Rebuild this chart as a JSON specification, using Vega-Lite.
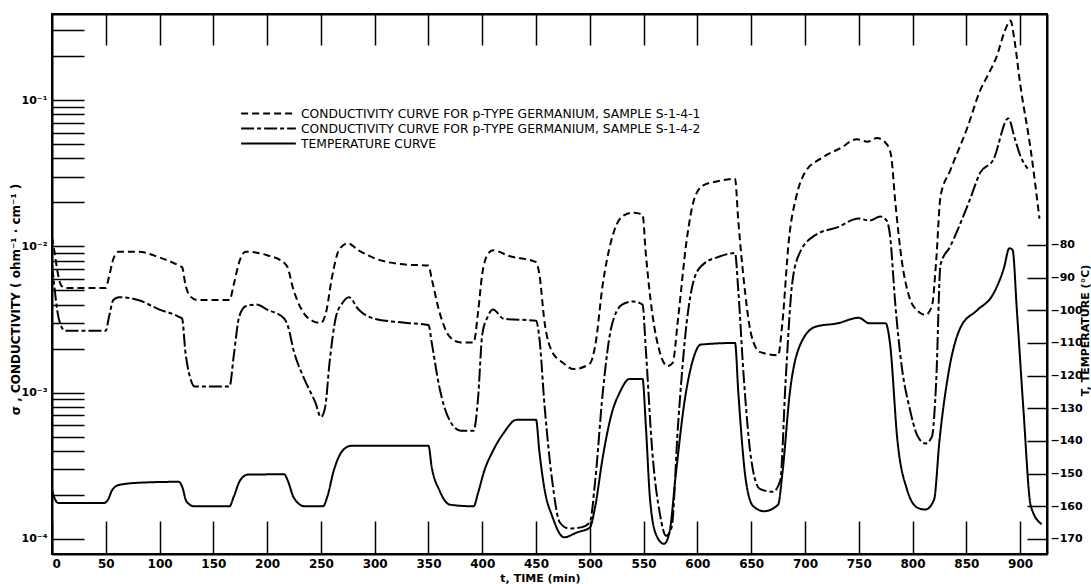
{
  "$schema": "https://vega.github.io/schema/vega-lite/v6.json",
  "width": 995,
  "height": 540,
  "autosize": {"type": "none"},
  "padding": {"left": 52, "top": 14, "right": 44, "bottom": 30},
  "background": "white",
  "config": {
    "view": {"stroke": "black", "strokeWidth": 2},
    "font": "DejaVu Sans",
    "axis": {"grid": false, "domainColor": "black", "domainWidth": 2, "tickColor": "black", "tickWidth": 1.5, "labelColor": "black", "titleColor": "black", "labelFont": "DejaVu Sans", "titleFont": "DejaVu Sans"}
  },
  "datasets": {
    "cond": [
      {"t":0,"s":0.0115,"series":"S-1-4-1"},{"t":2,"s":0.0095,"series":"S-1-4-1"},{"t":5,"s":0.0068,"series":"S-1-4-1"},{"t":8,"s":0.0055,"series":"S-1-4-1"},{"t":12,"s":0.0052,"series":"S-1-4-1"},{"t":50,"s":0.0052,"series":"S-1-4-1"},{"t":53,"s":0.0062,"series":"S-1-4-1"},{"t":57,"s":0.0082,"series":"S-1-4-1"},{"t":62,"s":0.0092,"series":"S-1-4-1"},{"t":80,"s":0.0092,"series":"S-1-4-1"},{"t":100,"s":0.0084,"series":"S-1-4-1"},{"t":118,"s":0.0074,"series":"S-1-4-1"},{"t":121,"s":0.0072,"series":"S-1-4-1"},{"t":124,"s":0.0055,"series":"S-1-4-1"},{"t":128,"s":0.0046,"series":"S-1-4-1"},{"t":135,"s":0.0043,"series":"S-1-4-1"},{"t":165,"s":0.0043,"series":"S-1-4-1"},{"t":169,"s":0.0055,"series":"S-1-4-1"},{"t":174,"s":0.0078,"series":"S-1-4-1"},{"t":180,"s":0.0092,"series":"S-1-4-1"},{"t":200,"s":0.0087,"series":"S-1-4-1"},{"t":216,"s":0.0077,"series":"S-1-4-1"},{"t":219,"s":0.0072,"series":"S-1-4-1"},{"t":224,"s":0.0052,"series":"S-1-4-1"},{"t":232,"s":0.0037,"series":"S-1-4-1"},{"t":242,"s":0.0031,"series":"S-1-4-1"},{"t":250,"s":0.003,"series":"S-1-4-1"},{"t":255,"s":0.0036,"series":"S-1-4-1"},{"t":260,"s":0.006,"series":"S-1-4-1"},{"t":267,"s":0.0095,"series":"S-1-4-1"},{"t":275,"s":0.0105,"series":"S-1-4-1"},{"t":285,"s":0.0094,"series":"S-1-4-1"},{"t":300,"s":0.0083,"series":"S-1-4-1"},{"t":330,"s":0.0075,"series":"S-1-4-1"},{"t":350,"s":0.0074,"series":"S-1-4-1"},{"t":353,"s":0.006,"series":"S-1-4-1"},{"t":360,"s":0.0036,"series":"S-1-4-1"},{"t":370,"s":0.0024,"series":"S-1-4-1"},{"t":380,"s":0.0022,"series":"S-1-4-1"},{"t":392,"s":0.0022,"series":"S-1-4-1"},{"t":396,"s":0.0035,"series":"S-1-4-1"},{"t":400,"s":0.0065,"series":"S-1-4-1"},{"t":405,"s":0.0088,"series":"S-1-4-1"},{"t":410,"s":0.0094,"series":"S-1-4-1"},{"t":425,"s":0.0086,"series":"S-1-4-1"},{"t":450,"s":0.0078,"series":"S-1-4-1"},{"t":453,"s":0.0065,"series":"S-1-4-1"},{"t":458,"s":0.003,"series":"S-1-4-1"},{"t":465,"s":0.0019,"series":"S-1-4-1"},{"t":475,"s":0.0016,"series":"S-1-4-1"},{"t":485,"s":0.00145,"series":"S-1-4-1"},{"t":500,"s":0.00158,"series":"S-1-4-1"},{"t":505,"s":0.0021,"series":"S-1-4-1"},{"t":512,"s":0.0055,"series":"S-1-4-1"},{"t":520,"s":0.011,"series":"S-1-4-1"},{"t":530,"s":0.016,"series":"S-1-4-1"},{"t":540,"s":0.017,"series":"S-1-4-1"},{"t":549,"s":0.0165,"series":"S-1-4-1"},{"t":552,"s":0.009,"series":"S-1-4-1"},{"t":558,"s":0.0035,"series":"S-1-4-1"},{"t":565,"s":0.0019,"series":"S-1-4-1"},{"t":572,"s":0.00152,"series":"S-1-4-1"},{"t":577,"s":0.0016,"series":"S-1-4-1"},{"t":582,"s":0.0032,"series":"S-1-4-1"},{"t":590,"s":0.011,"series":"S-1-4-1"},{"t":597,"s":0.021,"series":"S-1-4-1"},{"t":605,"s":0.026,"series":"S-1-4-1"},{"t":620,"s":0.028,"series":"S-1-4-1"},{"t":635,"s":0.029,"series":"S-1-4-1"},{"t":638,"s":0.015,"series":"S-1-4-1"},{"t":643,"s":0.006,"series":"S-1-4-1"},{"t":650,"s":0.0025,"series":"S-1-4-1"},{"t":658,"s":0.0019,"series":"S-1-4-1"},{"t":675,"s":0.0018,"series":"S-1-4-1"},{"t":679,"s":0.003,"series":"S-1-4-1"},{"t":685,"s":0.011,"series":"S-1-4-1"},{"t":692,"s":0.022,"series":"S-1-4-1"},{"t":700,"s":0.032,"series":"S-1-4-1"},{"t":715,"s":0.04,"series":"S-1-4-1"},{"t":733,"s":0.047,"series":"S-1-4-1"},{"t":748,"s":0.054,"series":"S-1-4-1"},{"t":758,"s":0.052,"series":"S-1-4-1"},{"t":767,"s":0.055,"series":"S-1-4-1"},{"t":776,"s":0.05,"series":"S-1-4-1"},{"t":780,"s":0.042,"series":"S-1-4-1"},{"t":784,"s":0.02,"series":"S-1-4-1"},{"t":790,"s":0.008,"series":"S-1-4-1"},{"t":797,"s":0.0045,"series":"S-1-4-1"},{"t":805,"s":0.0036,"series":"S-1-4-1"},{"t":812,"s":0.0034,"series":"S-1-4-1"},{"t":818,"s":0.0039,"series":"S-1-4-1"},{"t":822,"s":0.008,"series":"S-1-4-1"},{"t":826,"s":0.022,"series":"S-1-4-1"},{"t":835,"s":0.033,"series":"S-1-4-1"},{"t":851,"s":0.065,"series":"S-1-4-1"},{"t":863,"s":0.117,"series":"S-1-4-1"},{"t":870,"s":0.148,"series":"S-1-4-1"},{"t":878,"s":0.197,"series":"S-1-4-1"},{"t":886,"s":0.3,"series":"S-1-4-1"},{"t":891,"s":0.35,"series":"S-1-4-1"},{"t":895,"s":0.25,"series":"S-1-4-1"},{"t":900,"s":0.13,"series":"S-1-4-1"},{"t":910,"s":0.045,"series":"S-1-4-1"},{"t":918,"s":0.0155,"series":"S-1-4-1"},
      {"t":0,"s":0.0075,"series":"S-1-4-2"},{"t":2,"s":0.0055,"series":"S-1-4-2"},{"t":5,"s":0.0036,"series":"S-1-4-2"},{"t":9,"s":0.0028,"series":"S-1-4-2"},{"t":12,"s":0.00265,"series":"S-1-4-2"},{"t":50,"s":0.00265,"series":"S-1-4-2"},{"t":53,"s":0.0033,"series":"S-1-4-2"},{"t":57,"s":0.0043,"series":"S-1-4-2"},{"t":62,"s":0.0045,"series":"S-1-4-2"},{"t":80,"s":0.0043,"series":"S-1-4-2"},{"t":100,"s":0.0037,"series":"S-1-4-2"},{"t":118,"s":0.0033,"series":"S-1-4-2"},{"t":121,"s":0.0032,"series":"S-1-4-2"},{"t":124,"s":0.0019,"series":"S-1-4-2"},{"t":128,"s":0.0013,"series":"S-1-4-2"},{"t":133,"s":0.0011,"series":"S-1-4-2"},{"t":165,"s":0.0011,"series":"S-1-4-2"},{"t":169,"s":0.0018,"series":"S-1-4-2"},{"t":174,"s":0.0033,"series":"S-1-4-2"},{"t":180,"s":0.0039,"series":"S-1-4-2"},{"t":190,"s":0.004,"series":"S-1-4-2"},{"t":200,"s":0.0037,"series":"S-1-4-2"},{"t":216,"s":0.0032,"series":"S-1-4-2"},{"t":219,"s":0.0029,"series":"S-1-4-2"},{"t":225,"s":0.0019,"series":"S-1-4-2"},{"t":235,"s":0.00122,"series":"S-1-4-2"},{"t":245,"s":0.00085,"series":"S-1-4-2"},{"t":250,"s":0.00068,"series":"S-1-4-2"},{"t":254,"s":0.0008,"series":"S-1-4-2"},{"t":258,"s":0.0016,"series":"S-1-4-2"},{"t":264,"s":0.0033,"series":"S-1-4-2"},{"t":270,"s":0.0041,"series":"S-1-4-2"},{"t":276,"s":0.0045,"series":"S-1-4-2"},{"t":285,"s":0.0037,"series":"S-1-4-2"},{"t":300,"s":0.0032,"series":"S-1-4-2"},{"t":330,"s":0.003,"series":"S-1-4-2"},{"t":350,"s":0.0029,"series":"S-1-4-2"},{"t":353,"s":0.0022,"series":"S-1-4-2"},{"t":360,"s":0.0011,"series":"S-1-4-2"},{"t":370,"s":0.00064,"series":"S-1-4-2"},{"t":380,"s":0.00055,"series":"S-1-4-2"},{"t":392,"s":0.00055,"series":"S-1-4-2"},{"t":396,"s":0.0009,"series":"S-1-4-2"},{"t":400,"s":0.0025,"series":"S-1-4-2"},{"t":405,"s":0.0033,"series":"S-1-4-2"},{"t":410,"s":0.0037,"series":"S-1-4-2"},{"t":420,"s":0.0032,"series":"S-1-4-2"},{"t":450,"s":0.0031,"series":"S-1-4-2"},{"t":453,"s":0.0024,"series":"S-1-4-2"},{"t":458,"s":0.0008,"series":"S-1-4-2"},{"t":465,"s":0.00025,"series":"S-1-4-2"},{"t":472,"s":0.00013,"series":"S-1-4-2"},{"t":480,"s":0.000118,"series":"S-1-4-2"},{"t":492,"s":0.00012,"series":"S-1-4-2"},{"t":500,"s":0.00013,"series":"S-1-4-2"},{"t":505,"s":0.00025,"series":"S-1-4-2"},{"t":512,"s":0.001,"series":"S-1-4-2"},{"t":520,"s":0.0028,"series":"S-1-4-2"},{"t":530,"s":0.004,"series":"S-1-4-2"},{"t":540,"s":0.0042,"series":"S-1-4-2"},{"t":549,"s":0.004,"series":"S-1-4-2"},{"t":552,"s":0.002,"series":"S-1-4-2"},{"t":558,"s":0.0004,"series":"S-1-4-2"},{"t":565,"s":0.00015,"series":"S-1-4-2"},{"t":571,"s":0.000105,"series":"S-1-4-2"},{"t":576,"s":0.00012,"series":"S-1-4-2"},{"t":582,"s":0.0006,"series":"S-1-4-2"},{"t":590,"s":0.003,"series":"S-1-4-2"},{"t":597,"s":0.006,"series":"S-1-4-2"},{"t":605,"s":0.0075,"series":"S-1-4-2"},{"t":620,"s":0.0085,"series":"S-1-4-2"},{"t":635,"s":0.009,"series":"S-1-4-2"},{"t":638,"s":0.005,"series":"S-1-4-2"},{"t":643,"s":0.0013,"series":"S-1-4-2"},{"t":650,"s":0.00035,"series":"S-1-4-2"},{"t":658,"s":0.00022,"series":"S-1-4-2"},{"t":670,"s":0.00021,"series":"S-1-4-2"},{"t":677,"s":0.00025,"series":"S-1-4-2"},{"t":682,"s":0.0012,"series":"S-1-4-2"},{"t":688,"s":0.0055,"series":"S-1-4-2"},{"t":695,"s":0.009,"series":"S-1-4-2"},{"t":710,"s":0.012,"series":"S-1-4-2"},{"t":730,"s":0.0135,"series":"S-1-4-2"},{"t":750,"s":0.0155,"series":"S-1-4-2"},{"t":760,"s":0.015,"series":"S-1-4-2"},{"t":770,"s":0.016,"series":"S-1-4-2"},{"t":776,"s":0.015,"series":"S-1-4-2"},{"t":779,"s":0.012,"series":"S-1-4-2"},{"t":784,"s":0.004,"series":"S-1-4-2"},{"t":790,"s":0.0015,"series":"S-1-4-2"},{"t":797,"s":0.0008,"series":"S-1-4-2"},{"t":805,"s":0.0005,"series":"S-1-4-2"},{"t":812,"s":0.00045,"series":"S-1-4-2"},{"t":818,"s":0.0005,"series":"S-1-4-2"},{"t":822,"s":0.0012,"series":"S-1-4-2"},{"t":826,"s":0.0075,"series":"S-1-4-2"},{"t":835,"s":0.01,"series":"S-1-4-2"},{"t":853,"s":0.0206,"series":"S-1-4-2"},{"t":863,"s":0.032,"series":"S-1-4-2"},{"t":875,"s":0.039,"series":"S-1-4-2"},{"t":889,"s":0.075,"series":"S-1-4-2"},{"t":895,"s":0.055,"series":"S-1-4-2"},{"t":900,"s":0.042,"series":"S-1-4-2"},{"t":907,"s":0.034,"series":"S-1-4-2"}
    ],
    "temp": [
      {"t":0,"T":-155,"series":"T"},{"t":3,"T":-158,"series":"T"},{"t":6,"T":-159,"series":"T"},{"t":48,"T":-159,"series":"T"},{"t":52,"T":-158,"series":"T"},{"t":56,"T":-155,"series":"T"},{"t":62,"T":-153.5,"series":"T"},{"t":80,"T":-152.8,"series":"T"},{"t":118,"T":-152.5,"series":"T"},{"t":121,"T":-154,"series":"T"},{"t":125,"T":-158.5,"series":"T"},{"t":132,"T":-160,"series":"T"},{"t":165,"T":-160,"series":"T"},{"t":169,"T":-157,"series":"T"},{"t":175,"T":-152,"series":"T"},{"t":182,"T":-150.3,"series":"T"},{"t":216,"T":-150.2,"series":"T"},{"t":219,"T":-152,"series":"T"},{"t":225,"T":-157.5,"series":"T"},{"t":235,"T":-160,"series":"T"},{"t":252,"T":-160,"series":"T"},{"t":256,"T":-157,"series":"T"},{"t":262,"T":-149,"series":"T"},{"t":270,"T":-143,"series":"T"},{"t":278,"T":-141.5,"series":"T"},{"t":350,"T":-141.5,"series":"T"},{"t":353,"T":-148,"series":"T"},{"t":360,"T":-155,"series":"T"},{"t":370,"T":-159.5,"series":"T"},{"t":392,"T":-160,"series":"T"},{"t":396,"T":-156,"series":"T"},{"t":402,"T":-149,"series":"T"},{"t":410,"T":-143,"series":"T"},{"t":420,"T":-137.5,"series":"T"},{"t":432,"T":-133.5,"series":"T"},{"t":450,"T":-133.5,"series":"T"},{"t":453,"T":-143,"series":"T"},{"t":458,"T":-155,"series":"T"},{"t":465,"T":-163,"series":"T"},{"t":476,"T":-169.5,"series":"T"},{"t":488,"T":-168,"series":"T"},{"t":500,"T":-166.5,"series":"T"},{"t":505,"T":-160,"series":"T"},{"t":512,"T":-145,"series":"T"},{"t":520,"T":-132,"series":"T"},{"t":528,"T":-125,"series":"T"},{"t":537,"T":-121,"series":"T"},{"t":549,"T":-121,"series":"T"},{"t":552,"T":-135,"series":"T"},{"t":556,"T":-158,"series":"T"},{"t":562,"T":-169,"series":"T"},{"t":569,"T":-171.5,"series":"T"},{"t":574,"T":-168,"series":"T"},{"t":580,"T":-150,"series":"T"},{"t":588,"T":-128,"series":"T"},{"t":596,"T":-115,"series":"T"},{"t":603,"T":-110.5,"series":"T"},{"t":635,"T":-110,"series":"T"},{"t":638,"T":-125,"series":"T"},{"t":645,"T":-152,"series":"T"},{"t":652,"T":-160,"series":"T"},{"t":662,"T":-161.5,"series":"T"},{"t":675,"T":-159.5,"series":"T"},{"t":679,"T":-150,"series":"T"},{"t":686,"T":-125,"series":"T"},{"t":695,"T":-111,"series":"T"},{"t":710,"T":-105,"series":"T"},{"t":730,"T":-104,"series":"T"},{"t":750,"T":-102.3,"series":"T"},{"t":760,"T":-104,"series":"T"},{"t":775,"T":-104,"series":"T"},{"t":779,"T":-110,"series":"T"},{"t":786,"T":-140,"series":"T"},{"t":795,"T":-155,"series":"T"},{"t":805,"T":-160.5,"series":"T"},{"t":812,"T":-161,"series":"T"},{"t":820,"T":-158,"series":"T"},{"t":825,"T":-140,"series":"T"},{"t":833,"T":-120,"series":"T"},{"t":845,"T":-105,"series":"T"},{"t":860,"T":-100,"series":"T"},{"t":875,"T":-95,"series":"T"},{"t":885,"T":-87,"series":"T"},{"t":890,"T":-81,"series":"T"},{"t":893,"T":-81.5,"series":"T"},{"t":897,"T":-100,"series":"T"},{"t":903,"T":-130,"series":"T"},{"t":910,"T":-160,"series":"T"},{"t":920,"T":-165.5,"series":"T"}
    ]
  },
  "layer": [
    {
      "data": {"name": "cond"},
      "mark": {"type": "line", "color": "black", "strokeWidth": 2, "interpolate": "monotone"},
      "encoding": {
        "x": {"field": "t", "type": "quantitative", "scale": {"domain": [0, 925], "nice": false, "zero": false},
          "axis": {"orient": "bottom", "values": [0,50,100,150,200,250,300,350,400,450,500,550,600,650,700,750,800,850,900], "tickSize": -33, "labelPadding": 37, "labelFontSize": 12, "labelFontWeight": "bold", "title": "t, TIME (min)", "titleFontSize": 11, "titleFontWeight": "bold", "titlePadding": 0, "titleX": 488, "titleY": 24, "titleBaseline": "middle"}},
        "y": {"field": "s", "type": "quantitative", "scale": {"type": "log", "domain": [0.0000789, 0.388], "nice": false},
          "axis": {"orient": "left", "values": [0.0001,0.0002,0.0003,0.0004,0.0005,0.0006,0.0007,0.0008,0.0009,0.001,0.002,0.003,0.004,0.005,0.006,0.007,0.008,0.009,0.01,0.02,0.03,0.04,0.05,0.06,0.07,0.08,0.09,0.1,0.2,0.3],
            "labelExpr": "datum.value == 0.1 ? '10⁻¹' : datum.value == 0.01 ? '10⁻²' : datum.value == 0.001 ? '10⁻³' : datum.value == 0.0001 ? '10⁻⁴' : ''",
            "tickSize": -32, "labelPadding": 37, "labelFontSize": 11, "labelFontWeight": "bold",
            "title": "σ , CONDUCTIVITY ( ohm⁻¹ · cm⁻¹ )", "titleFontSize": 12, "titleFontWeight": "bold", "titleX": -37, "titleY": 285, "titleBaseline": "middle"}},
        "strokeDash": {"field": "series", "type": "nominal",
          "scale": {"domain": ["S-1-4-1", "S-1-4-2", "T"], "range": [[7, 4], [13, 3, 4, 3], [1, 0]]},
          "legend": {"orient": "none", "legendX": 188, "legendY": 92, "title": null, "symbolType": "stroke", "symbolSize": 3000, "symbolStrokeWidth": 2, "symbolStrokeColor": "black", "clipHeight": 15, "labelFontSize": 12.3, "labelFont": "DejaVu Sans", "labelColor": "black", "labelOffset": 4, "rowPadding": 0,
            "labelExpr": "datum.value == 'T' ? 'TEMPERATURE CURVE' : 'CONDUCTIVITY CURVE FOR p-TYPE GERMANIUM, SAMPLE ' + datum.value", "labelLimit": 600}}
      }
    },
    {
      "data": {"name": "temp"},
      "mark": {"type": "line", "color": "black", "strokeWidth": 2, "interpolate": "monotone"},
      "encoding": {
        "x": {"field": "t", "type": "quantitative", "scale": {"domain": [0, 925], "nice": false, "zero": false},
          "axis": {"orient": "top", "values": [50,100,150,200,250,300,350,400,450,500,550,600,650,700,750,800,850,900], "tickSize": -31, "labels": false, "title": null}},
        "y": {"field": "T", "type": "quantitative", "scale": {"domain": [-174.6, -9.3], "nice": false, "zero": false},
          "axis": {"orient": "right", "values": [-80,-90,-100,-110,-120,-130,-140,-150,-160,-170], "tickSize": -20, "labelPadding": 23, "labelFontSize": 11, "labelFontWeight": "bold",
            "title": "T, TEMPERATURE (°C)", "titleAngle": -90, "titleFontSize": 11, "titleFontWeight": "bold", "titleX": 38, "titleY": 316, "titleBaseline": "middle"}},
        "strokeDash": {"field": "series", "type": "nominal", "scale": {"domain": ["S-1-4-1", "S-1-4-2", "T"], "range": [[7, 4], [13, 3, 4, 3], [1, 0]]}}
      }
    }
  ],
  "resolve": {"scale": {"y": "independent"}, "axis": {"x": "independent", "y": "independent"}}
}
